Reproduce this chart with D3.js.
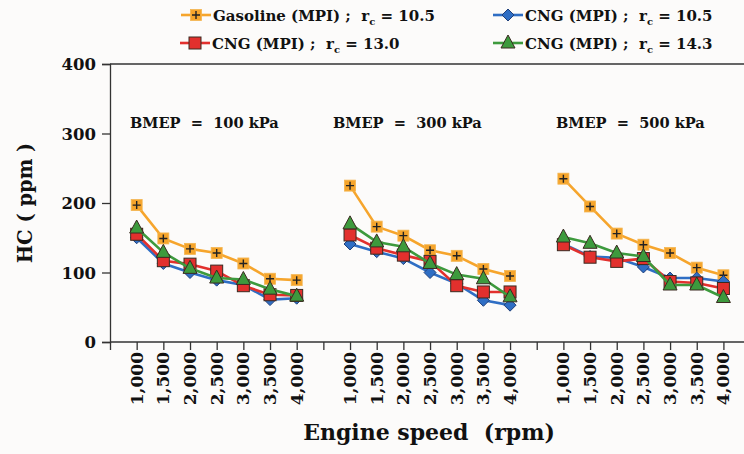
<!DOCTYPE html>
<html>
<head>
<meta charset="utf-8">
<script src="https://cdn.jsdelivr.net/npm/d3@7/dist/d3.min.js"></script>
<style>
  html, body { margin: 0; padding: 0; background: #fcfbfa; }
  svg { display: block; }
  text { font-family: "DejaVu Serif", "Liberation Serif", serif; font-weight: bold; fill: #111; }
</style>
</head>
<body>
<svg id="chart" width="744" height="454"></svg>
<script>
// Engine speed categories and load cases
const speeds = ["1,000", "1,500", "2,000", "2,500", "3,000", "3,500", "4,000"];
const loads = ["BMEP  =  100 kPa", "BMEP  =  300 kPa", "BMEP  =  500 kPa"];
const yTicks = [0, 100, 200, 300, 400];

// HC (ppm) per load case, each 7 values over the engine speeds
const gasoline105 = [
  [197, 149, 134, 128, 113, 91, 89],
  [225, 166, 153, 132, 124, 105, 95],
  [235, 195, 156, 140, 128, 107, 96]
];
const cng105 = [
  [150, 113, 100, 89, 82, 61, 63],
  [141, 130, 120, 100, 84, 60, 53],
  [141, 123, 121, 108, 92, 92, 87]
];
const cng130 = [
  [155, 117, 112, 102, 81, 68, 67],
  [154, 135, 125, 116, 81, 72, 72],
  [140, 122, 116, 120, 87, 85, 77]
];
const cng143 = [
  [164, 129, 106, 92, 90, 76, 66],
  [170, 144, 137, 113, 97, 91, 65],
  [151, 142, 128, 123, 82, 82, 64]
];

const seriesNames = ["Gasoline (MPI) ;  r", "CNG (MPI) ;  r", "CNG (MPI) ;  r", "CNG (MPI) ;  r"];
const seriesRc = ["10.5", "10.5", "13.0", "14.3"];

const series = [
  { name: seriesNames[0], rc: seriesRc[0], data: gasoline105, color: "#f6a52c", marker: "plus" },
  { name: seriesNames[1], rc: seriesRc[1], data: cng105, color: "#2f6ec4", marker: "diamond" },
  { name: seriesNames[2], rc: seriesRc[2], data: cng130, color: "#e2302d", marker: "square" },
  { name: seriesNames[3], rc: seriesRc[3], data: cng143, color: "#3d9a3d", marker: "triangle" }
];

const svg = d3.select("#chart");
const plotLeft = 110, plotTop = 64, plotBottom = 342, plotRight = 744;

// Category slots: 7 speeds per load, one empty slot between loads
const slotCount = 24; // slot 0 sits on the axis line
const slotIndex = (g, i) => 1 + g * 8 + i;
const x = d3.scaleLinear().domain([0, 1]).range([plotLeft, plotLeft + 26.67]);
const y = d3.scaleLinear().domain([0, 400]).range([plotBottom, plotTop]);

// Frame: y axis, top border, x axis
svg.append("line").attr("x1", plotLeft).attr("x2", plotRight).attr("y1", plotTop).attr("y2", plotTop)
  .attr("stroke", "#333").attr("stroke-width", 1.3);

const yAxis = d3.axisLeft(y).tickValues(yTicks).tickSize(8).tickPadding(6);
const gy = svg.append("g").attr("transform", `translate(${plotLeft},0)`).call(yAxis);
gy.select(".domain").attr("stroke", "#333").attr("stroke-width", 1.3);
gy.selectAll(".tick line").attr("stroke", "#333").attr("stroke-width", 1.3);
gy.selectAll(".tick text").style("font-size", "16.5px").attr("dy", "0.36em");

const tickSlots = d3.range(0, slotCount);
const gx = svg.append("g").attr("transform", `translate(0,${plotBottom})`)
  .call(d3.axisBottom(x).tickValues(tickSlots).tickSize(8).tickFormat(""));
gx.select(".domain").attr("stroke", "#333").attr("stroke-width", 1.3)
  .attr("d", `M${plotLeft},0H${plotRight}`);
gx.selectAll(".tick line").attr("stroke", "#333").attr("stroke-width", 1.3);

// Rotated speed labels under each group
loads.forEach((load, g) => {
  speeds.forEach((s, i) => {
    const cx = x(slotIndex(g, i));
    svg.append("text")
      .attr("transform", `translate(${cx + 6},${plotBottom + 10}) rotate(-90)`)
      .attr("text-anchor", "end")
      .style("font-size", "17px")
      .text(s);
  });
  svg.append("text")
    .attr("x", [130, 333, 556][g])
    .attr("y", 128)
    .style("font-size", "14.6px")
    .attr("xml:space", "preserve")
    .text(load);
});

// Axis titles
svg.append("text")
  .attr("transform", `translate(32,${(plotTop + plotBottom) / 2}) rotate(-90)`)
  .attr("text-anchor", "middle")
  .style("font-size", "19.5px")
  .attr("xml:space", "preserve")
  .text("HC ( ppm )");
svg.append("text")
  .attr("x", 429).attr("y", 440)
  .attr("text-anchor", "middle")
  .style("font-size", "22px")
  .attr("xml:space", "preserve")
  .text("Engine speed  (rpm)");

// Marker drawing
function drawMarker(sel, type, color, cx, cy) {
  const stroke = "#3a2a20";
  if (type === "plus") {
    sel.append("rect").attr("x", cx - 5.5).attr("y", cy - 5.5).attr("width", 11).attr("height", 11)
      .attr("fill", color).attr("stroke", "#f3b550").attr("stroke-width", 0.8);
    sel.append("path").attr("d", `M${cx - 4},${cy}H${cx + 4}M${cx},${cy - 4}V${cy + 4}`)
      .attr("stroke", "#222").attr("stroke-width", 1.4);
  } else if (type === "square") {
    sel.append("rect").attr("x", cx - 6).attr("y", cy - 6).attr("width", 12).attr("height", 12)
      .attr("fill", color).attr("stroke", stroke).attr("stroke-width", 1);
  } else if (type === "diamond") {
    sel.append("path").attr("d", `M${cx},${cy - 6}L${cx + 6},${cy}L${cx},${cy + 6}L${cx - 6},${cy}Z`)
      .attr("fill", color).attr("stroke", "#1f3f7a").attr("stroke-width", 1);
  } else if (type === "triangle") {
    sel.append("path").attr("d", `M${cx},${cy - 8}L${cx + 7},${cy + 5}L${cx - 7},${cy + 5}Z`)
      .attr("fill", color).attr("stroke", stroke).attr("stroke-width", 1);
  }
}

// Lines and markers, one line segment set per load group
const line = d3.line().x(d => d[0]).y(d => d[1]);
series.forEach(s => {
  const gs = svg.append("g");
  s.data.forEach((vals, g) => {
    const pts = vals.map((v, i) => [x(slotIndex(g, i)), y(v)]);
    gs.append("path").attr("d", line(pts)).attr("fill", "none")
      .attr("stroke", s.color).attr("stroke-width", 2.6).attr("stroke-linejoin", "round");
    pts.forEach(p => drawMarker(gs, s.marker, s.color, p[0], p[1]));
  });
});

// Legend: two rows, two columns
const legendPos = [[181, 15], [493, 15], [180, 43], [493, 43]];
series.forEach((s, i) => {
  const [lx, ly] = legendPos[i];
  const gl = svg.append("g");
  gl.append("line").attr("x1", lx).attr("x2", lx + 30).attr("y1", ly).attr("y2", ly)
    .attr("stroke", s.color).attr("stroke-width", 2.6);
  drawMarker(gl, s.marker, s.color, lx + 15, ly);
  const t = gl.append("text").attr("x", lx + 32).attr("y", ly + 6)
    .style("font-size", "15px").attr("xml:space", "preserve");
  t.append("tspan").text(s.name);
  t.append("tspan").attr("dy", 4).style("font-size", "10px").text("c");
  t.append("tspan").attr("dy", -4).text(" = " + s.rc);
});
</script>
</body>
</html>
